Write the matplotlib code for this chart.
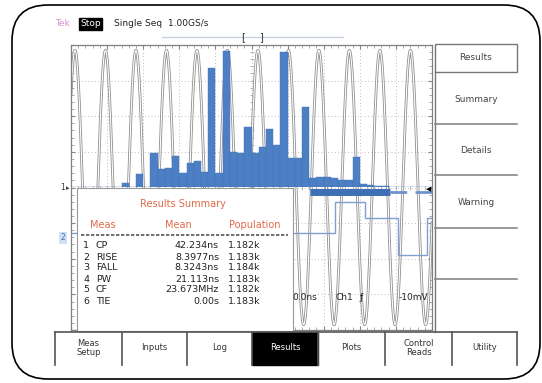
import numpy as np
import matplotlib
matplotlib.use("Agg")
import matplotlib.pyplot as plt
from matplotlib.patches import Rectangle, FancyBboxPatch

# --- data ---
# histogram of edge positions, 50 bins of 0.2 div across the screen (counts in screen px)
hist_counts = [0, 0, 0, 0, 0, 0, 0, 4, 0, 13,
               0, 34, 18, 19, 31, 14, 24, 26, 15, 119,
               14, 136, 35, 34, 60, 34, 40, 58, 42, 135,
               29, 29, 80, 9, 10, 10, 9, 7, 7, 30,
               3, 2, 1, 1, 0, 0, 0, 0, 0, 0]

# ch1: sine trace, period from the CP measurement
ch1_period_ns = 42.234
ch1_first_peak_ns = -244.5
ch1_amp_div = 3.85

# ch2: step trace (ns, div)
ch2_t = [-250, 115.7, 157.2, 202.9, 243.0, 250]
ch2_v = [-1.28, -0.41, -0.86, -1.90, -0.86, -0.86]
ch2_band_t = [81, 192]
ch2_band_v = -0.12

meas_names = ["CP", "RISE", "FALL", "PW", "CF", "TIE"]
meas_means = ["42.234ns", "8.3977ns", "8.3243ns", "21.113ns", "23.673MHz", "0.00s"]
meas_pop = ["1.182k", "1.183k", "1.184k", "1.183k", "1.182k", "1.183k"]

side_menu = ["Summary", "Details", "Warning", "", ""]
tabs = ["Meas\nSetup", "Inputs", "Log", "Results", "Plots", "Control\nReads", "Utility"]
tab_edges = [55, 122, 187, 252, 318, 385, 452, 517]

W, H = 542, 383
fig = plt.figure(figsize=(W / 100, H / 100), dpi=100)
plt.rcParams['font.family'] = ['DejaVu Sans']

def px_axes(x0, y0, x1, y1):
    return [x0 / W, (H - y1) / H, (x1 - x0) / W, (y1 - y0) / H]

# pixel-coordinate overlay for the instrument frame
bg = fig.add_axes([0, 0, 1, 1], zorder=0)
bg.set_xlim(0, W)
bg.set_ylim(H, 0)
bg.axis("off")

# scope graticule
ax = fig.add_axes(px_axes(71, 45, 432, 330), zorder=1)
ax.set_xlim(-250, 250)
ax.set_ylim(-4, 4)
ax.set_xticks(np.arange(-250, 251, 50))
ax.set_yticks(np.arange(-4, 5, 1))
ax.set_xticks(np.arange(-250, 251, 10), minor=True)
ax.set_yticks(np.arange(-4, 4.01, 0.2), minor=True)
ax.tick_params(which="both", direction="in", top=True, right=True,
               labelbottom=False, labelleft=False, color="#888888")
ax.tick_params(which="major", length=3)
ax.tick_params(which="minor", length=2, width=0.5)
ax.grid(True, which="major", ls=(0, (1, 3)), color="#a8a8a8", lw=0.6)
for s in ax.spines.values():
    s.set_color("#808080")
    s.set_linewidth(0.9)
minor_x = np.arange(-250, 251, 10)
minor_y = np.arange(-4, 4.01, 0.2)
ax.plot(minor_x, np.zeros_like(minor_x), ls="none", marker="|", ms=3, mew=0.5, color="#999999")
ax.plot(np.zeros_like(minor_y), minor_y, ls="none", marker="_", ms=3, mew=0.5, color="#999999")

t = np.linspace(-250, 250, 4000)
v = ch1_amp_div * np.cos(2 * np.pi * (t - ch1_first_peak_ns) / ch1_period_ns)
ax.plot(t, v, color="#8f8f8f", lw=2.0)
ax.plot(t, v, color="white", lw=0.8)

ax.step(ch2_t, ch2_v, where="post", color="#7f9fd0", lw=1.0)
ax.plot(ch2_band_t, [ch2_band_v] * 2, color="#3f6fb5", lw=5, solid_capstyle="butt")
ax.plot([ch2_band_t[1], 250], [ch2_band_v] * 2, color="#6f93cc", lw=2, ls=(0, (6, 3)))

# histogram axes, baseline on the ch1 ground
hx = fig.add_axes(px_axes(71, 45, 432, 187), zorder=2)
hx.patch.set_alpha(0)
hx.axis("off")
edges = np.linspace(-250, 250, len(hist_counts) + 1)
hx.bar(edges[:-1], hist_counts, width=np.diff(edges), align="edge",
       color="#4d7fc4", edgecolor="#4274bb", lw=0.3)
hx.set_xlim(-250, 250)
hx.set_ylim(0, 142)

# front overlay for text, menus and the table
ov = fig.add_axes([0, 0, 1, 1], zorder=3)
ov.set_xlim(0, W)
ov.set_ylim(H, 0)
ov.axis("off")
ov.patch.set_alpha(0)

ov.add_patch(FancyBboxPatch((12, 5), 528, 374, boxstyle="round,pad=0,rounding_size=36",
                            fc="none", ec="black", lw=1.2))

# status line
ov.text(55, 24, "Tek", color="#d890d0", fontsize=6.5, va="center")
ov.text(80, 24, "Stop", color="white", fontsize=6.5, va="center",
        bbox=dict(boxstyle="square,pad=0.15", fc="black", ec="black"))
ov.text(114, 24, "Single Seq  1.00GS/s", color="#222222", fontsize=6.5, va="center")
ov.plot([162, 343], [37, 37], color="#c8d2e4", lw=1)
ov.text(243, 37, "[", fontsize=7, ha="center", va="center", color="#333333")
ov.text(261, 37, "]", fontsize=7, ha="center", va="center", color="#333333")

# channel markers
ov.text(63, 187, "1", fontsize=5.5, ha="center", va="center", color="#333333")
ov.text(68, 188, "\u25b8", fontsize=5, ha="center", va="center", color="#333333")
ov.text(63, 238, "2", fontsize=5.5, ha="center", va="center", color="#3a6fc0",
        bbox=dict(boxstyle="square,pad=0.2", fc="#cfe0f5", ec="none"))
ov.text(429, 189, "\u25c0", fontsize=5, ha="center", va="center", color="black")

# readout in the graticule
ov.text(292, 298, "0.0ns", fontsize=6.5, va="center", color="#222222")
ov.text(335, 298, "Ch1", fontsize=6.5, va="center", color="#222222")
ov.text(360, 298, "\u0192", fontsize=6.5, va="center", color="#222222")
ov.text(428, 298, "-10mV", fontsize=6.5, va="center", ha="right", color="#222222")

# results summary table
ov.add_patch(Rectangle((77, 188), 216, 143, fc="white", ec="#999999", lw=0.8))
red = "#e06a48"
ov.text(183, 204, "Results Summary", color=red, fontsize=7, ha="center", va="center")
ov.text(103, 225, "Meas", color=red, fontsize=7, ha="center", va="center")
ov.text(178, 225, "Mean", color=red, fontsize=7, ha="center", va="center")
ov.text(255, 225, "Population", color=red, fontsize=7, ha="center", va="center")
ov.plot([81, 288], [235, 235], color="#555555", lw=1.2, ls=(0, (2, 1)))
for i, (nm, mn, pp) in enumerate(zip(meas_names, meas_means, meas_pop)):
    y = 246 + 11 * i
    ov.text(83, y, str(i + 1), fontsize=6.8, va="center", color="#222222")
    ov.text(96, y, nm, fontsize=6.8, va="center", color="#222222")
    ov.text(219, y, mn, fontsize=6.8, va="center", ha="right", color="#222222")
    ov.text(228, y, pp, fontsize=6.8, va="center", color="#222222")

# right side menu
ov.add_patch(Rectangle((435, 44), 82, 28, fc="white", ec="#777777", lw=1))
ov.text(476, 58, "Results", fontsize=6.5, ha="center", va="center", color="#444444")
ov.plot([435, 435], [72, 332], color="#777777", lw=1)
sep = [124, 175, 228, 279]
for i, lab in enumerate(side_menu):
    top = 72 if i == 0 else sep[i - 1]
    bot = sep[i] if i < len(sep) else 330
    if i < len(sep):
        ov.plot([435, 517], [bot, bot], color="#888888", lw=1.2)
    ov.text(476, (top + bot) / 2 + 1, lab, fontsize=6.5, ha="center", va="center", color="#444444")

# bottom tabs
ov.plot([tab_edges[0], tab_edges[-1]], [332, 332], color="#555555", lw=1.2)
for e in tab_edges:
    ov.plot([e, e], [332, 365], color="#555555", lw=1.2)
for i, lab in enumerate(tabs):
    x0, x1 = tab_edges[i], tab_edges[i + 1]
    tc = "#333333"
    if lab == "Results":
        ov.add_patch(Rectangle((x0, 332), x1 - x0, 33, fc="black", ec="black"))
        tc = "white"
    ov.text((x0 + x1) / 2, 348, lab, fontsize=6, ha="center", va="center",
            color=tc, linespacing=0.95)

fig.savefig("out.png", dpi=100)
